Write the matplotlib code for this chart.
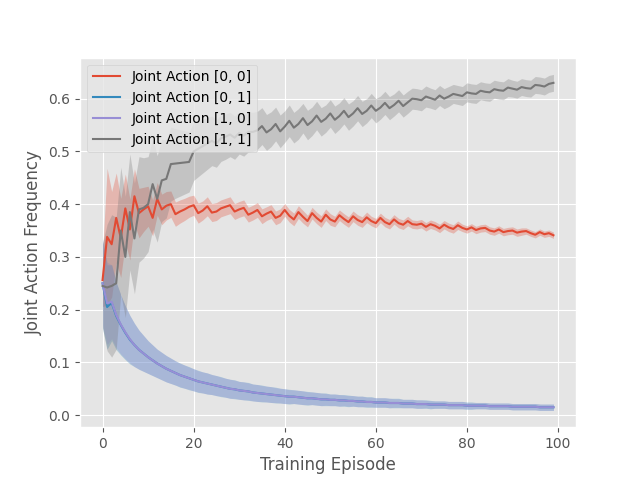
import matplotlib
matplotlib.use('Agg')
import matplotlib.pyplot as plt
import numpy as np

episodes = list(range(100))
labels = ['Joint Action [0, 0]', 'Joint Action [0, 1]', 'Joint Action [1, 0]', 'Joint Action [1, 1]']

mean_00 = [0.256, 0.338, 0.324, 0.374, 0.336, 0.392, 0.352, 0.415, 0.383, 0.390,
           0.396, 0.374, 0.410, 0.390, 0.397, 0.400, 0.381, 0.386, 0.390, 0.395,
           0.398, 0.383, 0.388, 0.396, 0.384, 0.386, 0.392, 0.395, 0.398, 0.386,
           0.390, 0.393, 0.380, 0.384, 0.389, 0.377, 0.382, 0.386, 0.374, 0.378,
           0.389, 0.378, 0.371, 0.385, 0.376, 0.368, 0.383, 0.374, 0.367, 0.380,
           0.371, 0.367, 0.379, 0.372, 0.366, 0.377, 0.370, 0.366, 0.375, 0.368,
           0.364, 0.374, 0.366, 0.362, 0.371, 0.364, 0.361, 0.368, 0.362, 0.361,
           0.363, 0.357, 0.362, 0.359, 0.354, 0.361, 0.356, 0.353, 0.360, 0.355,
           0.352, 0.356, 0.351, 0.354, 0.355, 0.350, 0.348, 0.352, 0.347, 0.349,
           0.350, 0.346, 0.348, 0.349, 0.345, 0.342, 0.347, 0.343, 0.345, 0.341]
hw_00 = [0.050, 0.130, 0.100, 0.085, 0.075, 0.065, 0.058, 0.052, 0.047, 0.042,
         0.038, 0.034, 0.031, 0.029, 0.027, 0.025, 0.023, 0.022, 0.021, 0.020,
         0.019, 0.019, 0.018, 0.018, 0.017, 0.017, 0.016, 0.016, 0.016, 0.015,
         0.015, 0.015, 0.014, 0.014, 0.014, 0.014, 0.013, 0.013, 0.013, 0.013,
         0.012, 0.012, 0.012, 0.012, 0.012, 0.011, 0.011, 0.011, 0.011, 0.011,
         0.011, 0.010, 0.010, 0.010, 0.010, 0.010, 0.010, 0.010, 0.010, 0.009,
         0.009, 0.009, 0.009, 0.009, 0.009, 0.009, 0.009, 0.009, 0.008, 0.008,
         0.008, 0.008, 0.008, 0.008, 0.008, 0.008, 0.008, 0.008, 0.008, 0.007,
         0.007, 0.007, 0.007, 0.007, 0.007, 0.007, 0.007, 0.007, 0.007, 0.007,
         0.007, 0.007, 0.007, 0.006, 0.006, 0.006, 0.006, 0.006, 0.006, 0.006]

mean_01 = [0.250, 0.205, 0.213, 0.188, 0.171, 0.156, 0.143, 0.133, 0.124, 0.117,
           0.110, 0.104, 0.098, 0.093, 0.088, 0.084, 0.080, 0.076, 0.073, 0.070,
           0.067, 0.064, 0.062, 0.060, 0.058, 0.056, 0.054, 0.052, 0.050, 0.049,
           0.047, 0.046, 0.045, 0.043, 0.042, 0.041, 0.040, 0.039, 0.038, 0.037,
           0.036, 0.035, 0.035, 0.034, 0.033, 0.032, 0.032, 0.031, 0.030, 0.030,
           0.029, 0.029, 0.028, 0.028, 0.027, 0.027, 0.026, 0.026, 0.025, 0.025,
           0.024, 0.024, 0.024, 0.023, 0.023, 0.023, 0.022, 0.022, 0.022, 0.021,
           0.021, 0.021, 0.020, 0.020, 0.020, 0.020, 0.019, 0.019, 0.019, 0.019,
           0.018, 0.018, 0.018, 0.018, 0.018, 0.017, 0.017, 0.017, 0.017, 0.017,
           0.016, 0.016, 0.016, 0.016, 0.016, 0.016, 0.015, 0.015, 0.015, 0.015]
mean_10 = [0.250, 0.212, 0.215, 0.190, 0.172, 0.157, 0.144, 0.133, 0.124, 0.117,
           0.110, 0.104, 0.098, 0.093, 0.088, 0.084, 0.080, 0.076, 0.073, 0.070,
           0.067, 0.064, 0.062, 0.060, 0.058, 0.056, 0.054, 0.052, 0.050, 0.049,
           0.047, 0.046, 0.045, 0.043, 0.042, 0.041, 0.040, 0.039, 0.038, 0.037,
           0.036, 0.035, 0.035, 0.034, 0.033, 0.032, 0.032, 0.031, 0.030, 0.030,
           0.029, 0.029, 0.028, 0.028, 0.027, 0.027, 0.026, 0.026, 0.025, 0.025,
           0.024, 0.024, 0.024, 0.023, 0.023, 0.023, 0.022, 0.022, 0.022, 0.021,
           0.021, 0.021, 0.020, 0.020, 0.020, 0.020, 0.019, 0.019, 0.019, 0.019,
           0.018, 0.018, 0.018, 0.018, 0.018, 0.017, 0.017, 0.017, 0.017, 0.017,
           0.016, 0.016, 0.016, 0.016, 0.016, 0.016, 0.015, 0.015, 0.015, 0.015]
hw_01 = [0.085, 0.080, 0.072, 0.064, 0.057, 0.051, 0.046, 0.041, 0.037, 0.034,
         0.031, 0.029, 0.027, 0.026, 0.025, 0.024, 0.023, 0.023, 0.022, 0.022,
         0.021, 0.021, 0.020, 0.020, 0.019, 0.019, 0.019, 0.018, 0.018, 0.018,
         0.017, 0.017, 0.017, 0.016, 0.016, 0.016, 0.015, 0.015, 0.015, 0.014,
         0.014, 0.014, 0.013, 0.013, 0.013, 0.013, 0.012, 0.012, 0.012, 0.012,
         0.011, 0.011, 0.011, 0.011, 0.011, 0.010, 0.010, 0.010, 0.010, 0.010,
         0.009, 0.009, 0.009, 0.009, 0.009, 0.009, 0.008, 0.008, 0.008, 0.008,
         0.008, 0.008, 0.008, 0.007, 0.007, 0.007, 0.007, 0.007, 0.007, 0.007,
         0.007, 0.007, 0.006, 0.006, 0.006, 0.006, 0.006, 0.006, 0.006, 0.006,
         0.006, 0.006, 0.006, 0.006, 0.006, 0.006, 0.006, 0.006, 0.006, 0.006]
hw_10 = [0.080, 0.078, 0.070, 0.062, 0.056, 0.050, 0.045, 0.041, 0.037, 0.034,
         0.031, 0.029, 0.027, 0.026, 0.025, 0.024, 0.023, 0.022, 0.022, 0.021,
         0.021, 0.020, 0.020, 0.020, 0.019, 0.019, 0.018, 0.018, 0.018, 0.017,
         0.017, 0.017, 0.016, 0.016, 0.016, 0.015, 0.015, 0.015, 0.014, 0.014,
         0.014, 0.013, 0.013, 0.013, 0.013, 0.012, 0.012, 0.012, 0.012, 0.011,
         0.011, 0.011, 0.011, 0.010, 0.010, 0.010, 0.010, 0.010, 0.009, 0.009,
         0.009, 0.009, 0.009, 0.009, 0.008, 0.008, 0.008, 0.008, 0.008, 0.008,
         0.008, 0.007, 0.007, 0.007, 0.007, 0.007, 0.007, 0.007, 0.007, 0.007,
         0.006, 0.006, 0.006, 0.006, 0.006, 0.006, 0.006, 0.006, 0.006, 0.006,
         0.006, 0.006, 0.006, 0.006, 0.006, 0.006, 0.006, 0.006, 0.006, 0.006]

mean_11 = [0.245, 0.242, 0.245, 0.250, 0.350, 0.300, 0.385, 0.335, 0.390, 0.393,
           0.400, 0.438, 0.410, 0.445, 0.448, 0.476, 0.477, 0.478, 0.479, 0.480,
           0.500, 0.505, 0.510, 0.515, 0.520, 0.515, 0.525, 0.528, 0.532, 0.526,
           0.535, 0.530, 0.537, 0.537, 0.540, 0.548, 0.536, 0.542, 0.552, 0.538,
           0.547, 0.558, 0.545, 0.552, 0.563, 0.550, 0.557, 0.568, 0.556, 0.562,
           0.572, 0.560, 0.567, 0.577, 0.565, 0.572, 0.582, 0.571, 0.577, 0.587,
           0.577, 0.583, 0.592, 0.582, 0.588, 0.596, 0.586, 0.593, 0.600, 0.599,
           0.597, 0.604, 0.601, 0.598, 0.606, 0.600, 0.604, 0.609, 0.607, 0.605,
           0.612, 0.610, 0.609, 0.615, 0.613, 0.612, 0.618, 0.616, 0.615, 0.621,
           0.619, 0.617, 0.622, 0.620, 0.619, 0.626, 0.625, 0.623, 0.628, 0.630]
hw_11 = [0.080, 0.120, 0.135, 0.125, 0.120, 0.115, 0.110, 0.105, 0.100, 0.095,
         0.090, 0.086, 0.082, 0.078, 0.074, 0.070, 0.066, 0.063, 0.060, 0.057,
         0.055, 0.053, 0.051, 0.049, 0.047, 0.045, 0.044, 0.043, 0.042, 0.041,
         0.040, 0.039, 0.038, 0.037, 0.036, 0.035, 0.034, 0.033, 0.032, 0.031,
         0.030, 0.030, 0.029, 0.029, 0.028, 0.028, 0.027, 0.027, 0.027, 0.026,
         0.026, 0.026, 0.025, 0.025, 0.025, 0.024, 0.024, 0.024, 0.023, 0.023,
         0.023, 0.022, 0.022, 0.022, 0.021, 0.021, 0.021, 0.021, 0.020, 0.020,
         0.020, 0.020, 0.019, 0.019, 0.019, 0.019, 0.019, 0.018, 0.018, 0.018,
         0.018, 0.018, 0.018, 0.017, 0.017, 0.017, 0.017, 0.017, 0.017, 0.017,
         0.016, 0.016, 0.016, 0.016, 0.016, 0.016, 0.016, 0.016, 0.016, 0.016]

plt.style.use('ggplot')
fig, ax = plt.subplots(figsize=(6.4, 4.8), dpi=100)
x = np.array(episodes)
series = [(mean_00, hw_00), (mean_01, hw_01), (mean_10, hw_10), (mean_11, hw_11)]
for lab, (m, h) in zip(labels, series):
    m = np.array(m)
    h = np.array(h)
    line, = ax.plot(x, m, label=lab)
    ax.fill_between(x, m - h, m + h, alpha=0.3, color=line.get_color(), linewidth=0)

ax.set_xlabel('Training Episode')
ax.set_ylabel('Joint Action Frequency')
ax.legend(loc='upper left')
fig.savefig('out.png', dpi=100)
